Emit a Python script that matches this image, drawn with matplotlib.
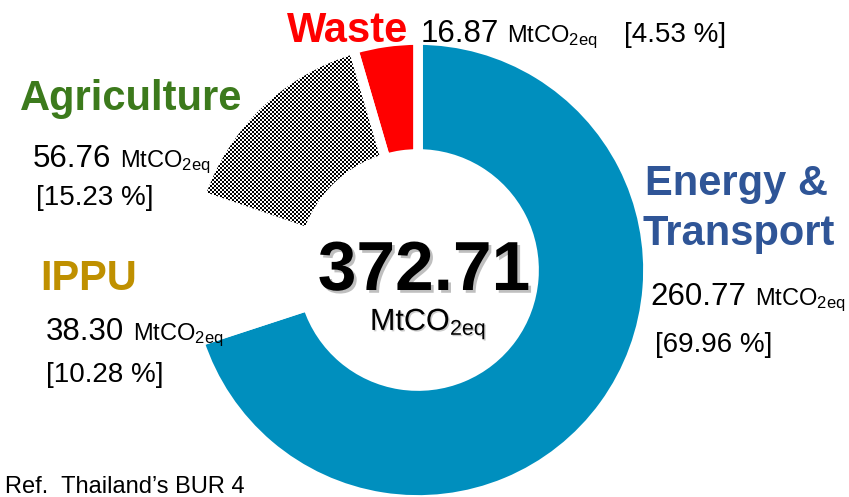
"""
Donut: Thailand GHG emissions by sector (BUR 4), total in the middle.
"""
import numpy as np
import matplotlib.pyplot as plt
import matplotlib.patheffects as pe
from matplotlib.patches import PathPatch

plt.rcParams.update({
    "font.family": ["Liberation Sans", "DejaVu Sans"],
    "mathtext.fontset": "custom",
    "mathtext.rm": "Liberation Sans",
    "mathtext.it": "Liberation Sans:italic",
    "mathtext.bf": "Liberation Sans:bold",
    "mathtext.default": "regular",
})

# --- data ---
sectors = ["Energy & Transport", "IPPU", "Agriculture", "Waste"]
emissions = [260.77, 38.30, 56.76, 16.87]      # MtCO2eq
shares = [69.96, 10.28, 15.23, 4.53]            # %
total = 372.71

RING_BLUE = "#008FBE"
W, H = 849, 497
UNIT = r"MtCO$_{2eq}$"

fig = plt.figure(figsize=(W / 100, H / 100), dpi=100)
ax = fig.add_axes([0, 0, 1, 1])

# pixel-like coords, y up
def Y(y):
    return H - y

cx, cy = 418, Y(270)
wedges, _ = ax.pie(emissions, colors=[RING_BLUE, "white", "white", "#FF0000"],
                   startangle=90, counterclock=False, center=(cx, cy), radius=230,
                   wedgeprops=dict(width=114, edgecolor="white", linewidth=7))

# checkerboard fill for agriculture
agri = wedges[2]
checker = np.indices((H // 2 + 1, W // 2 + 1)).sum(axis=0) % 2
img = ax.imshow(checker, cmap="gray", interpolation="nearest",
                extent=(0, 2 * (W // 2 + 1), 0, 2 * (H // 2 + 1)), zorder=2)
img.set_clip_path(agri)
ax.add_patch(PathPatch(agri.get_path(), transform=agri.get_transform(),
                       fc="none", ec="white", lw=7, zorder=3))

ax.set_xlim(0, W)
ax.set_ylim(0, H)
ax.set_aspect("equal")
ax.axis("off")

def label(x, y, s, size, **kw):
    ax.text(x, Y(y), s, fontsize=size, ha="left", va="baseline", **kw)

# category names
label(287, 42, "Waste", 30, color="#FF0000", weight="bold")
label(20, 110, "Agriculture", 30, color="#3C7A1C", weight="bold")
label(40, 290, "IPPU", 30, color="#BF9000", weight="bold")
label(645, 195, "Energy &", 30, color="#2F5597", weight="bold")
label(643, 245, "Transport", 30, color="#2F5597", weight="bold")

# values
NUM = 22.5
label(421, 42, f"{emissions[3]:.2f}", NUM)
label(507, 42, UNIT, 17)
label(624, 42, f"[{shares[3]:.2f} %]", 20)

label(33, 167, f"{emissions[2]:.2f}", NUM)
label(120, 167, UNIT, 17)
label(36, 205, f"[{shares[2]:.2f} %]", 20)

label(46, 340, f"{emissions[1]:.2f}", NUM)
label(133, 340, UNIT, 17)
label(46, 382, f"[{shares[1]:.2f} %]", 20)

label(650, 305, f"{emissions[0]:.2f}", NUM)
label(755, 305, UNIT, 17)
label(655, 352, f"[{shares[0]:.2f} %]", 20)

# total in the middle
shadow = [pe.withSimplePatchShadow(offset=(2, -2), shadow_rgbFace="gray", alpha=0.5)]
ax.text(424, Y(290), f"{total:.2f}", fontsize=50, weight="bold", ha="center",
        va="baseline", path_effects=shadow)
ax.text(428, Y(330), UNIT, fontsize=22, ha="center", va="baseline",
        path_effects=[pe.withSimplePatchShadow(offset=(1, -1), shadow_rgbFace="gray", alpha=0.4)])

label(5, 493, "Ref.  Thailand\u2019s BUR 4", 17)

fig.savefig("out.png", dpi=100)
plt.close(fig)
